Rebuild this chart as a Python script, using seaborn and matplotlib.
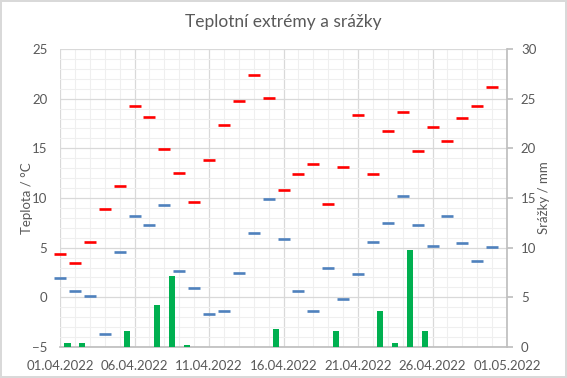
import numpy as np
import pandas as pd
import matplotlib
matplotlib.use("Agg")
import matplotlib.pyplot as plt
import seaborn as sns
from matplotlib.ticker import MultipleLocator

# ---- data ----
dates = pd.date_range("2022-04-01", "2022-04-30", freq="D")
t_max = [4.4, 3.5, 5.6, 8.9, 11.2, 19.3, 18.2, 14.9, 12.5, 9.6,
         13.8, 17.3, 19.8, 22.4, 20.1, 10.8, 12.4, 13.4, 9.4, 13.1,
         18.4, 12.4, 16.7, 18.7, 14.7, 17.1, 15.7, 18.1, 19.3, 21.2]
t_min = [1.9, 0.6, 0.1, -3.7, 4.6, 8.2, 7.3, 9.3, 2.7, 0.9,
         -1.7, -1.4, 2.4, 6.5, 9.9, 5.9, 0.6, -1.4, 3.0, -0.2,
         2.3, 5.6, 7.5, 10.2, 7.3, 5.2, 8.2, 5.5, 3.7, 5.1]
rain = [0.4, 0.4, 0, 0, 1.6, 0, 4.2, 7.15, 0.2, 0,
        0, 0, 0, 0, 1.8, 0, 0, 0, 1.6, 0,
        0, 3.6, 0.4, 9.8, 1.6, 0, 0, 0, 0, 0]
xtick_labels = ["01.04.2022", "06.04.2022", "11.04.2022", "16.04.2022",
                "21.04.2022", "26.04.2022", "01.05.2022"]

day = np.arange(len(dates))
df = pd.DataFrame({"day": day, "tmax": t_max, "tmin": t_min, "rain": rain})
df_rain = df[df["rain"] > 0].copy()
df_rain["pos"] = df_rain["day"] + 0.5

txt = "#595959"
sns.set_theme(style="white")
plt.rcParams["font.family"] = ["Lato", "DejaVu Sans"]

fig = plt.figure(figsize=(5.67, 3.78), dpi=100)
fig.patch.set_facecolor("white")
fig.patch.set_edgecolor("#D9D9D9")
fig.patch.set_linewidth(1.5)
ax = fig.add_axes([60/567, 1-347/378, 447/567, 298/378])
ax2 = ax.twinx()

# grid
ax.set_xlim(0, 30)
ax.set_ylim(-5, 25)
ax.xaxis.set_major_locator(MultipleLocator(5))
ax.xaxis.set_minor_locator(MultipleLocator(1))
ax.yaxis.set_major_locator(MultipleLocator(5))
ax.yaxis.set_minor_locator(MultipleLocator(1))
ax.grid(which="major", color="#D9D9D9", linewidth=0.9)
ax.grid(which="minor", color="#EFEFEF", linewidth=0.8)
ax.set_axisbelow(True)

sns.scatterplot(data=df, x="day", y="tmax", marker="_", s=80, color="#FF0000",
                linewidth=1.9, ax=ax, zorder=3, clip_on=False)
sns.scatterplot(data=df, x="day", y="tmin", marker="_", s=80, color="#4F81BD",
                linewidth=1.9, ax=ax, zorder=3, clip_on=False)

sns.barplot(data=df_rain, x="pos", y="rain", native_scale=True, width=0.42,
            color="#00B050", saturation=1, linewidth=0, ax=ax2, zorder=2)
ax2.set_xlim(0, 30)
ax2.set_ylim(0, 30)
ax2.yaxis.set_major_locator(MultipleLocator(5))

ax.set_xticks(np.arange(0, 31, 5))
ax.set_xticklabels(xtick_labels)

for a in (ax, ax2):
    for s in a.spines.values():
        s.set_visible(False)
ax2.spines["right"].set_visible(True)
ax2.spines["right"].set_color("#BFBFBF")
ax.spines["bottom"].set_visible(True)
ax.spines["bottom"].set_color("#BFBFBF")

ax.tick_params(axis="x", which="both", length=0, labelsize=9.5, colors=txt, pad=9)
ax.tick_params(axis="y", which="both", length=0, labelsize=9.5, colors=txt, pad=9)
ax2.tick_params(axis="y", which="major", length=4, color="#BFBFBF", labelsize=9.5,
                colors=txt, pad=6, direction="out")
ax2.tick_params(axis="x", which="both", length=0, labelbottom=False)

ax.set_xlabel("")
ax.set_ylabel("Teplota / °C", fontsize=9.5, color=txt)
ax.yaxis.set_label_coords(-0.06, 0.5)
ax2.set_ylabel("Srážky / mm", fontsize=9.5, color=txt, rotation=90)
ax2.yaxis.set_label_coords(1.069, 0.5)
ax2.set_xlabel("")

fig.text(0.5, 1-22/378, "Teplotní extrémy a srážky", ha="center", va="center",
         fontsize=12.5, color=txt)

fig.savefig("out.png", dpi=100, facecolor=fig.get_facecolor(),
            edgecolor=fig.get_edgecolor())
